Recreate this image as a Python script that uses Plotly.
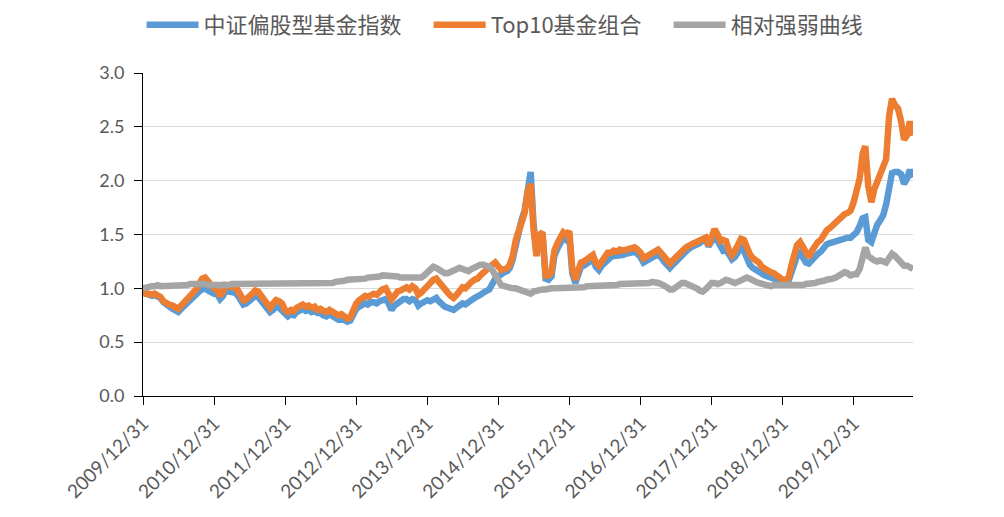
import plotly.graph_objects as go
import calendar

# ---- data (semi-monthly readings: 15th and month-end, from 2009-12-31 to 2020-10-31) ----
series_names = ["中证偏股型基金指数", "Top10基金组合", "相对强弱曲线"]
tick_dates = ["2009-12-31", "2010-12-31", "2011-12-31", "2012-12-31", "2013-12-31",
              "2014-12-31", "2015-12-31", "2016-12-31", "2017-12-31", "2018-12-31", "2019-12-31"]
tick_labels = ["2009/12/31", "2010/12/31", "2011/12/31", "2012/12/31", "2013/12/31",
               "2014/12/31", "2015/12/31", "2016/12/31", "2017/12/31", "2018/12/31", "2019/12/31"]

fund_index = [1.00,
    0.95,0.94,0.93,0.94,0.93,0.91,0.87,0.84,0.83,0.81,0.79,0.78,0.81,0.84,0.87,0.90,0.92,0.94,0.97,0.99,1.00,0.98,0.96,0.95,
    0.95,0.90,0.93,0.98,0.97,0.97,0.96,0.94,0.90,0.85,0.86,0.88,0.91,0.93,0.92,0.88,0.85,0.81,0.78,0.80,0.83,0.82,0.80,0.76,
    0.74,0.76,0.75,0.78,0.79,0.81,0.79,0.80,0.78,0.79,0.77,0.77,0.75,0.74,0.76,0.74,0.73,0.71,0.72,0.70,0.69,0.70,0.76,0.81,
    0.83,0.85,0.86,0.85,0.87,0.87,0.86,0.88,0.89,0.90,0.86,0.80,0.84,0.87,0.88,0.90,0.90,0.88,0.90,0.89,0.84,0.86,0.88,0.89,
    0.88,0.90,0.91,0.88,0.85,0.83,0.82,0.81,0.80,0.82,0.84,0.86,0.85,0.88,0.89,0.91,0.92,0.94,0.96,0.97,0.99,1.04,1.09,1.11,
    1.14,1.15,1.16,1.19,1.27,1.42,1.53,1.64,1.72,1.97,2.08,1.60,1.33,1.48,1.50,1.09,1.08,1.11,1.30,1.37,1.42,1.47,1.45,1.48,
    1.14,1.05,1.13,1.20,1.21,1.23,1.26,1.27,1.20,1.17,1.21,1.24,1.28,1.29,1.30,1.30,1.31,1.31,1.32,1.33,1.33,1.34,1.32,1.29,
    1.24,1.26,1.28,1.29,1.30,1.31,1.29,1.25,1.22,1.19,1.22,1.25,1.27,1.30,1.33,1.36,1.38,1.39,1.41,1.42,1.44,1.46,1.39,1.44,
    1.48,1.44,1.37,1.35,1.36,1.30,1.27,1.29,1.34,1.38,1.35,1.27,1.22,1.19,1.17,1.15,1.13,1.12,1.11,1.10,1.09,1.08,1.07,1.05,
    1.05,1.07,1.16,1.25,1.30,1.33,1.29,1.24,1.23,1.27,1.30,1.32,1.34,1.38,1.41,1.42,1.43,1.44,1.45,1.46,1.46,1.47,1.47,1.50,
    1.52,1.58,1.65,1.66,1.45,1.43,1.52,1.59,1.63,1.68,1.78,1.98,2.07,2.08,2.08,2.06,1.97,2.02,2.10,2.03]

top10 = [1.00,
    0.95,0.95,0.94,0.95,0.94,0.92,0.88,0.86,0.85,0.84,0.82,0.81,0.84,0.87,0.90,0.93,0.96,0.99,1.04,1.09,1.10,1.06,1.03,1.00,
    0.99,0.93,0.97,1.03,1.02,1.02,1.01,0.99,0.94,0.89,0.90,0.92,0.95,0.98,0.97,0.93,0.90,0.86,0.82,0.86,0.89,0.88,0.86,0.80,
    0.78,0.80,0.79,0.82,0.83,0.85,0.83,0.84,0.82,0.83,0.80,0.81,0.79,0.78,0.80,0.78,0.77,0.75,0.76,0.74,0.72,0.73,0.80,0.86,
    0.89,0.91,0.93,0.92,0.94,0.95,0.94,0.97,0.99,1.00,0.96,0.90,0.93,0.97,0.98,1.00,1.01,0.99,1.02,1.00,0.94,0.96,0.99,1.02,
    1.04,1.08,1.09,1.06,1.01,0.98,0.96,0.93,0.91,0.94,0.97,1.01,1.00,1.04,1.06,1.08,1.09,1.12,1.15,1.16,1.20,1.22,1.24,1.19,
    1.17,1.18,1.19,1.22,1.30,1.45,1.55,1.64,1.70,1.90,1.97,1.55,1.30,1.50,1.52,1.12,1.12,1.15,1.35,1.42,1.47,1.52,1.50,1.53,
    1.18,1.08,1.17,1.24,1.25,1.27,1.30,1.31,1.24,1.21,1.25,1.28,1.33,1.33,1.35,1.34,1.36,1.35,1.36,1.37,1.37,1.38,1.36,1.33,
    1.28,1.30,1.32,1.33,1.34,1.36,1.33,1.29,1.26,1.23,1.26,1.29,1.31,1.34,1.37,1.39,1.41,1.42,1.43,1.44,1.45,1.47,1.40,1.46,
    1.55,1.50,1.44,1.45,1.44,1.35,1.31,1.35,1.41,1.46,1.45,1.38,1.32,1.28,1.26,1.24,1.20,1.18,1.16,1.15,1.14,1.12,1.10,1.08,
    1.08,1.10,1.22,1.33,1.40,1.43,1.38,1.31,1.29,1.35,1.40,1.43,1.45,1.50,1.54,1.56,1.59,1.62,1.64,1.66,1.69,1.70,1.72,1.80,
    1.90,2.02,2.25,2.32,1.95,1.80,1.92,1.99,2.07,2.12,2.20,2.60,2.76,2.70,2.67,2.55,2.38,2.42,2.55,2.42]

relative = [1.00,
    1.01,1.02,1.02,1.02,1.03,1.02,1.02,1.02,1.03,1.03,1.02,1.03,1.03,1.03,1.03,1.04,1.04,1.04,1.05,1.05,1.04,1.03,1.03,1.03,
    1.03,1.02,1.03,1.03,1.03,1.04,1.04,1.04,1.04,1.04,1.04,1.04,1.04,1.04,1.05,1.05,1.05,1.05,1.05,1.05,1.05,1.05,1.05,1.05,
    1.05,1.05,1.04,1.04,1.05,1.05,1.05,1.05,1.05,1.05,1.05,1.05,1.05,1.05,1.05,1.05,1.06,1.06,1.07,1.07,1.08,1.08,1.09,1.09,
    1.09,1.09,1.09,1.10,1.10,1.10,1.10,1.11,1.12,1.12,1.12,1.12,1.11,1.11,1.10,1.10,1.10,1.10,1.09,1.09,1.09,1.10,1.12,1.15,
    1.18,1.20,1.19,1.17,1.15,1.14,1.14,1.15,1.16,1.18,1.19,1.18,1.17,1.16,1.18,1.20,1.21,1.22,1.22,1.21,1.20,1.17,1.12,1.07,
    1.03,1.02,1.01,1.01,1.00,1.00,0.99,0.99,0.98,0.96,0.95,0.97,0.98,0.99,0.99,0.99,1.00,1.00,1.00,1.00,1.00,1.00,1.01,1.01,
    1.00,1.00,1.01,1.01,1.01,1.02,1.02,1.02,1.02,1.02,1.03,1.03,1.03,1.03,1.03,1.03,1.04,1.04,1.04,1.04,1.04,1.04,1.04,1.05,
    1.05,1.05,1.05,1.06,1.06,1.05,1.04,1.03,1.01,0.99,0.99,1.01,1.03,1.05,1.05,1.04,1.03,1.02,1.00,0.98,0.97,0.99,1.02,1.05,
    1.05,1.04,1.05,1.07,1.08,1.07,1.06,1.05,1.06,1.08,1.09,1.10,1.09,1.07,1.06,1.05,1.04,1.03,1.03,1.02,1.03,1.03,1.03,1.02,
    1.02,1.02,1.02,1.03,1.03,1.03,1.03,1.04,1.04,1.05,1.05,1.06,1.06,1.07,1.08,1.08,1.09,1.10,1.12,1.14,1.15,1.14,1.12,1.13,
    1.13,1.18,1.32,1.38,1.30,1.27,1.26,1.25,1.26,1.25,1.24,1.28,1.32,1.30,1.27,1.24,1.21,1.21,1.20,1.18]

# date grid: 2009-12-31 then 15th and month-end of each month up to 2020-10
dates = ["2009-12-31"]
for y in range(2010, 2021):
    for m in range(1, 13):
        if y == 2020 and m > 10:
            break
        dates.append(f"{y}-{m:02d}-15")
        dates.append(f"{y}-{m:02d}-{calendar.monthrange(y, m)[1]:02d}")

assert len(dates) == len(fund_index) == len(top10) == len(relative), (len(dates), len(fund_index), len(top10), len(relative))

colors = ["#5B9BD5", "#ED7D31", "#A5A5A5"]
FONT = "Lato, 'Noto Sans CJK SC', sans-serif"
legend_ids = ["legend", "legend2", "legend3"]
legend_x = [0.133, 0.419, 0.658]   # container fractions (left edge of each legend entry)

fig = go.Figure()
for name, vals, col, lid in zip(series_names, [fund_index, top10, relative], colors, legend_ids):
    fig.add_trace(go.Scatter(x=dates, y=vals, name=name, mode="lines", legend=lid,
                             line=dict(color=col, width=6.5)))

legend_style = dict(orientation="h", xref="container", yref="container",
                    y=0.967, xanchor="left", yanchor="middle", itemwidth=52,
                    font=dict(family="'Noto Sans CJK SC', Lato, sans-serif", size=22, color="#595959"),
                    bgcolor="rgba(0,0,0,0)")

fig.update_layout(
    width=1004, height=517,
    margin=dict(l=135, r=99, t=65, b=129),
    paper_bgcolor="white", plot_bgcolor="white",
    font=dict(family=FONT, color="#595959", size=18),
    showlegend=True,
    legend=dict(x=legend_x[0], **legend_style),
    legend2=dict(x=legend_x[1], **legend_style),
    legend3=dict(x=legend_x[2], **legend_style),
)
fig.update_xaxes(type="date", range=["2009-12-31", "2020-10-31"],
                 tickvals=tick_dates, ticktext=tick_labels, tickangle=-45,
                 showgrid=False, showline=True, linecolor="#000000", linewidth=1,
                 ticks="outside", ticklen=8, tickcolor="#000000",
                 tickfont=dict(size=19, color="#595959"), zeroline=False)
fig.update_yaxes(range=[0, 3], dtick=0.5, tick0=0, tickformat=".1f",
                 showgrid=True, gridcolor="#D9D9D9", gridwidth=1,
                 showline=True, linecolor="#000000", linewidth=1,
                 ticks="outside", ticklen=8, tickcolor="#000000",
                 ticklabelstandoff=6,
                 tickfont=dict(size=18, color="#595959"), zeroline=False)

fig.write_html("out.html")
